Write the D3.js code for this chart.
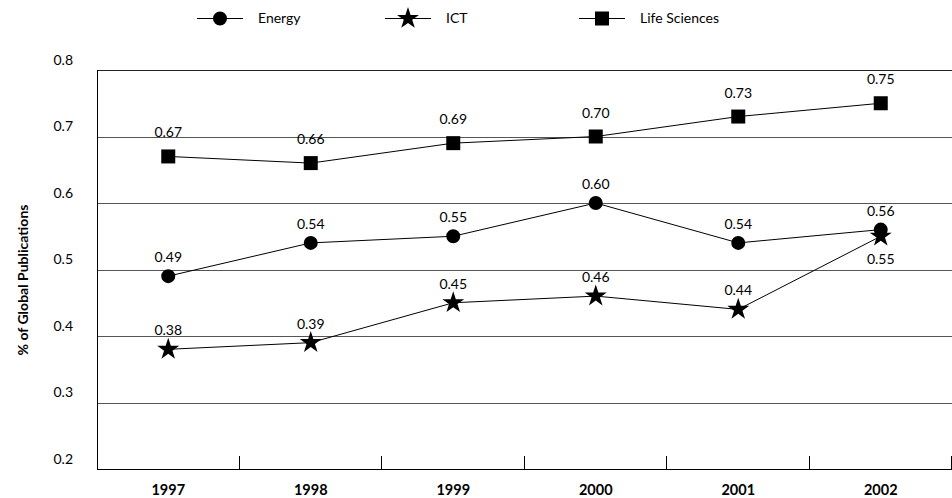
<!DOCTYPE html>
<html><head><meta charset="utf-8">
<script src="https://cdn.jsdelivr.net/npm/d3@7"></script>
<style>body{margin:0;background:#fff}svg{display:block}text{font-family:Lato,"Open Sans",sans-serif;fill:#000}</style>
</head><body><svg id="c" width="952" height="498"></svg>
<script>
const years = ["1997","1998","1999","2000","2001","2002"];
const energy = [0.49,0.54,0.55,0.60,0.54,0.56];
const ict = [0.38,0.39,0.45,0.46,0.44,0.55];
const life = [0.67,0.66,0.69,0.70,0.73,0.75];
const yTicks = [0.2,0.3,0.4,0.5,0.6,0.7,0.8];
const seriesNames = ["Energy","ICT","Life Sciences"];

const svg = d3.select("#c");
const L=97, R=952, T=70, B=469;
const x = d3.scaleBand().domain(years).range([L,R]);
const y = d3.scaleLinear().domain([0.2,0.8]).range([B,T]);

// gridlines
svg.append("g").selectAll("line").data(yTicks.slice(1)).join("line")
  .attr("x1",L).attr("x2",R).attr("y1",d=>Math.round(y(d))+0.5).attr("y2",d=>Math.round(y(d))+0.5)
  .attr("stroke",d=>d===0.8?"#222":"#555").attr("stroke-width",1);

// y labels (offset above line as in reference)
svg.append("g").selectAll("text").data(yTicks).join("text")
  .attr("x",73).attr("y",d=>y(d)-9).attr("text-anchor","end").attr("dominant-baseline","middle")
  .attr("font-size",14).text(d=>d.toFixed(1));

// axes lines
svg.append("line").attr("x1",L+0.5).attr("x2",L+0.5).attr("y1",T).attr("y2",B).attr("stroke","#000");
svg.append("line").attr("x1",L).attr("x2",R).attr("y1",B+0.5).attr("y2",B+0.5).attr("stroke","#000");
const bounds = years.map(d=>x(d)+x.bandwidth());
svg.append("g").selectAll("line").data(bounds).join("line")
  .attr("x1",d=>Math.round(d)-0.5).attr("x2",d=>Math.round(d)-0.5).attr("y1",B-13).attr("y2",B).attr("stroke","#000");
svg.append("g").selectAll("text").data(years).join("text")
  .attr("x",d=>x(d)+x.bandwidth()/2).attr("y",495).attr("text-anchor","middle")
  .attr("font-size",14.5).attr("font-weight","bold").text(d=>d);

// y title
svg.append("text").attr("transform","translate(28,280) rotate(-90)").attr("text-anchor","middle")
  .attr("font-size",14).attr("font-weight","bold").text("% of Global Publications");

const symbols = [d3.symbol().type(d3.symbolCircle).size(154), d3.symbol().type(d3.symbolStar).size(150), d3.symbol().type(d3.symbolSquare).size(196)];
const data = [energy, ict, life];
const cx = d=>x(d)+x.bandwidth()/2;
const line = d3.line().x((d,i)=>cx(years[i])).y(d=>y(d));
data.forEach((vals,k)=>{
  const g = svg.append("g");
  g.append("path").datum(vals).attr("d",line).attr("fill","none").attr("stroke","#000").attr("stroke-width",1);
  g.selectAll("path.m").data(vals).join("path").attr("class","m")
    .attr("transform",(d,i)=>`translate(${cx(years[i])},${y(d)})`).attr("d",symbols[k]).attr("fill","#000");
  g.selectAll("text").data(vals).join("text")
    .attr("x",(d,i)=>cx(years[i]))
    .attr("y",(d,i)=> (k===1 && i===5) ? y(d)+28 : y(d)-(k===2?19:14))
    .attr("text-anchor","middle").attr("font-size",14).text(d=>d.toFixed(2));
});

// legend
const legX = [220, 408, 602];
const lg = svg.append("g");
seriesNames.forEach((n,k)=>{
  lg.append("line").attr("x1",legX[k]-23).attr("x2",legX[k]+23).attr("y1",18.5).attr("y2",18.5).attr("stroke","#000");
  lg.append("path").attr("transform",`translate(${legX[k]},18.5)`).attr("d",symbols[k]).attr("fill","#000");
  lg.append("text").attr("x",legX[k]+38).attr("y",19).attr("dominant-baseline","middle").attr("font-size",14).text(n);
});
</script></body></html>
